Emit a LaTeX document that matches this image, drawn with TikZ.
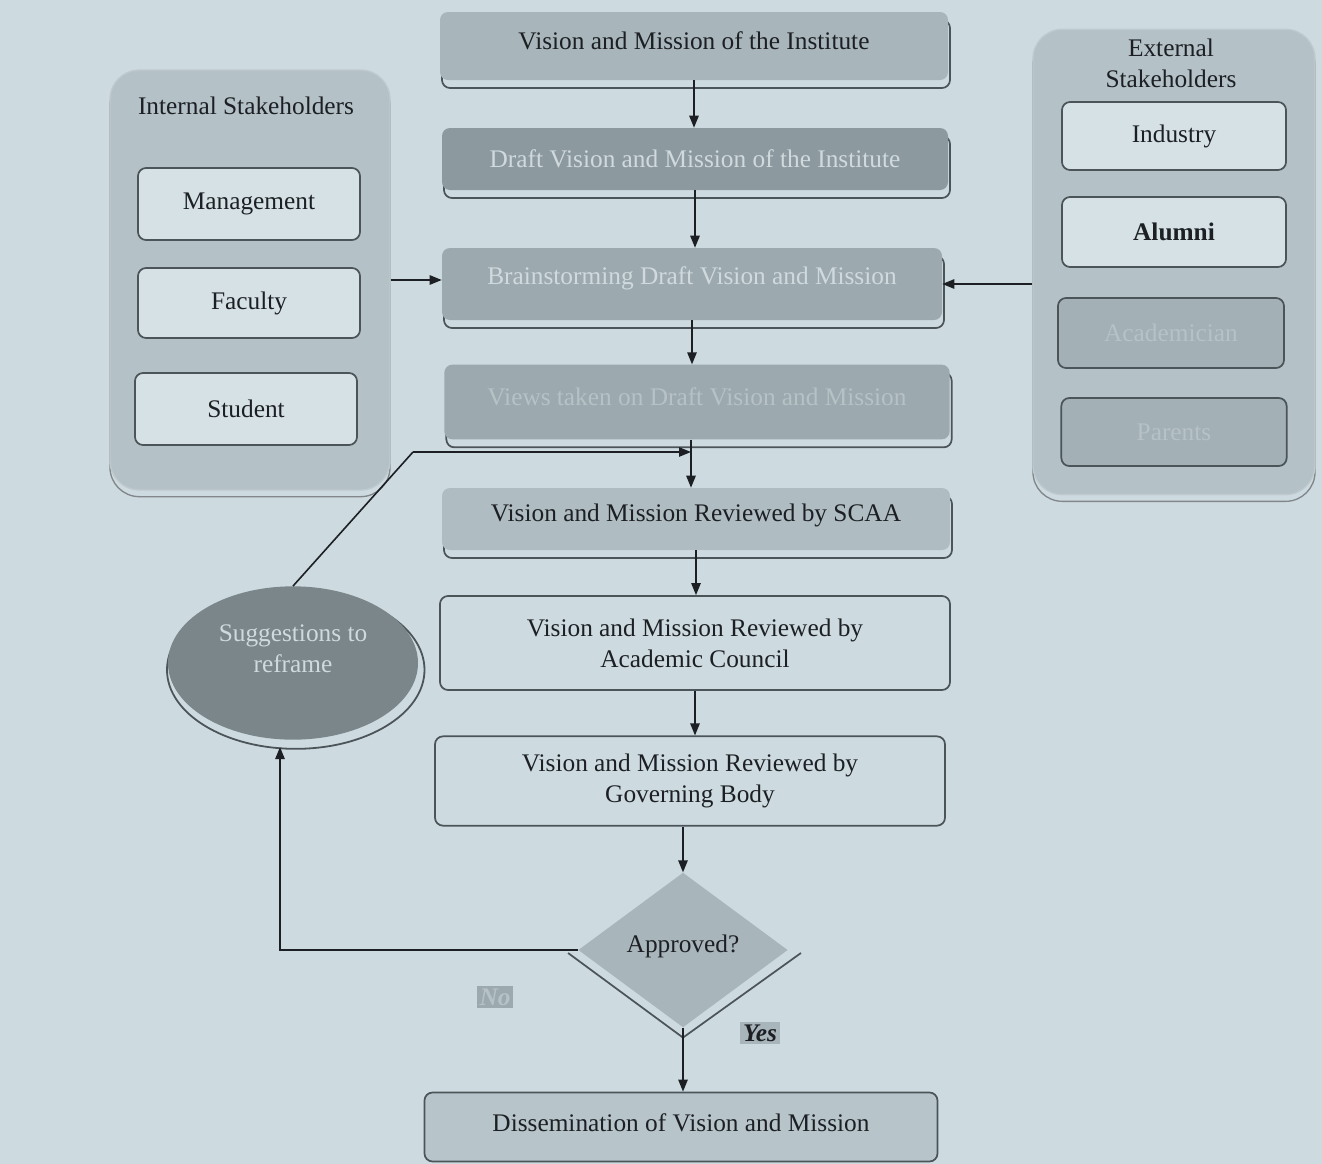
\documentclass[tikz,border=0pt]{standalone}
\usepackage{fontspec}
\setmainfont{Liberation Serif}
\usetikzlibrary{arrows.meta,shapes.geometric,shadows,calc}
\definecolor{bg}{RGB}{205,218,223}
\definecolor{panel}{RGB}{180,193,198}
\definecolor{gbox}{RGB}{168,181,186}
\definecolor{dbox}{RGB}{140,153,158}
\definecolor{mbox}{RGB}{156,169,174}
\definecolor{lbox}{RGB}{213,225,229}
\definecolor{ellc}{RGB}{122,134,138}
\definecolor{txt}{RGB}{28,32,36}
\definecolor{ftxt}{RGB}{208,218,222}
\definecolor{fftxt}{RGB}{182,194,198}
\definecolor{shd}{RGB}{75,84,88}
\newcommand{\upby}[2]{\raisebox{0pt}[\height][\dimexpr\depth+#1\relax]{#2}}
\begin{document}
\begin{tikzpicture}[x=0.75pt,y=-0.75pt,
  font=\fontsize{19}{23}\selectfont,
  box/.style={rectangle, rounded corners=6pt, inner sep=0pt, text=txt, align=center},
  shadowed/.style={general shadow={shadow xshift=1.5pt, shadow yshift=-6pt, fill=bg, draw=shd, line width=1.3pt}},
  gbx/.style={box, shadowed, fill=gbox},
  dbx/.style={box, shadowed, fill=dbox, text=ftxt},
  mbx/.style={box, shadowed, fill=mbox, text=ftxt},
  obx/.style={box, draw=shd, line width=1.3pt},
  pnl/.style={rectangle, rounded corners=22pt, fill=panel, draw=panel!85!white, line width=1pt,
    general shadow={shadow xshift=0pt, shadow yshift=-5pt, fill=bg, draw=shd!70, line width=1pt}},
  sbx/.style={box, draw=shd, line width=1.3pt, fill=lbox, minimum width=166.5pt},
  line/.style={draw=txt, line width=1.2pt},
  arr/.style={line, -{Triangle[length=9pt,width=7pt]}},
  lab/.style={rectangle, inner sep=2pt, font=\fontsize{19}{23}\selectfont\bfseries\itshape}
]
\fill[bg] (0,0) rectangle (1322,1164);
\useasboundingbox (0,0) rectangle (1322,1164);

% central column
\node[gbx, minimum width=381pt, minimum height=51pt] (top) at (694,46) {\upby{8pt}{Vision and Mission of the Institute}};
\node[dbx, minimum width=379.5pt, minimum height=46.5pt] (draft) at (695,159) {Draft Vision and Mission of the Institute};
\node[mbx, minimum width=375pt, minimum height=54pt] (brain) at (692,284) {\upby{8pt}{Brainstorming Draft Vision and Mission}};
\node[mbx, text=fftxt, minimum width=379pt, minimum height=56pt] (views) at (697,402) {\upby{8pt}{Views taken on Draft Vision and Mission}};
\node[gbx, fill=gbox!80!bg, minimum width=381pt, minimum height=46.5pt] (scaa) at (696,519) {\upby{6pt}{Vision and Mission Reviewed by SCAA}};
\node[obx, minimum width=382.5pt, minimum height=70.5pt] (acad) at (695,643) {Vision and Mission Reviewed by\\Academic Council};
\node[obx, minimum width=382.5pt, minimum height=67pt] (gov) at (690,781) {Vision and Mission Reviewed by\\Governing Body};
\node[diamond, aspect=1.35, inner sep=0pt, minimum width=157pt, minimum height=116pt,
  fill=gbox, text=txt] (dia) at (683,950) {\upby{6pt}{Approved?}};
\draw[shd, line width=1.3pt] ($(dia.west)+(-10,3)$) -- ($(dia.south)+(0,10)$) -- ($(dia.east)+(13,3)$);
\node[obx, fill=gbox!60!bg, minimum width=384.75pt, minimum height=51.75pt] (diss) at (681,1127) {\upby{6pt}{Dissemination of Vision and Mission}};

% ellipse
\node[ellipse, fill=ellc, text=ftxt, inner sep=0pt, minimum width=187.5pt, minimum height=115pt,
  general shadow={shadow xshift=2pt, shadow yshift=-5pt, shadow scale=1.03, fill=bg, draw=shd, line width=1.3pt}] (ell) at (293,663) {\upby{18pt}{\begin{tabular}{@{}c@{}}Suggestions to\\reframe\end{tabular}}};

% internal stakeholders
\node[pnl, minimum width=210pt, minimum height=315pt] (intp) at (250,280) {};
\node[text=txt] (intt) at (246,106) {Internal Stakeholders};
\node[sbx, minimum height=54pt] (mgmt) at (249,204) {Management};
\node[sbx, minimum height=52.5pt] (fac) at (249,303) {Faculty};
\node[sbx, minimum height=54pt] (stu) at (246,409) {Student};

% external stakeholders
\node[pnl, minimum width=211.5pt, minimum height=349pt] (extp) at (1174,262) {};
\node[text=txt, align=center] (extt) at (1171,63) {External\\Stakeholders};
\node[sbx, minimum width=168pt, minimum height=51pt] (ind) at (1174,136) {Industry};
\node[sbx, minimum width=168pt, minimum height=52.5pt, font=\fontsize{19}{23}\selectfont\bfseries] (alu) at (1174,232) {Alumni};
\node[sbx, fill=mbox!85!bg, text=fftxt, minimum width=169.5pt, minimum height=52.5pt] (acd) at (1171,333) {Academician};
\node[sbx, fill=mbox!85!bg, text=fftxt, minimum width=169pt, minimum height=51pt] (par) at (1174,432) {Parents};

% connectors
\coordinate (bend) at (413,452);
\coordinate (merge) at (691,452);
\coordinate (noend) at (280,747);
\draw[arr] (top.south) -- (top.south |- draft.north);
\draw[arr] (draft.south) -- (draft.south |- brain.north);
\draw[arr] (brain.south) -- (brain.south |- views.north);
\draw[arr] (views.south -| merge) -- (scaa.north -| merge);
\draw[line] (ell.north) -- (bend);
\draw[arr] (bend) -- (merge);
\draw[arr] (scaa.south) -- (scaa.south |- acad.north);
\draw[arr] (acad.south) -- (acad.south |- gov.north);
\draw[arr] (dia.north |- gov.south) -- (dia.north);
\draw[arr] (dia.south) -- (dia.south |- diss.north);
\draw[arr] (dia.west) -| (noend);
\draw[arr] (intp.east) -- (intp.east -| brain.west);
\draw[arr] (extp.west |- brain.east) -- (brain.east);

% labels
\node[lab, fill=mbox, text=fftxt] (no) at (495,997) {No};
\node[lab, fill=gbox, text=txt] (yes) at (760,1033) {Yes};
\end{tikzpicture}
\end{document}
